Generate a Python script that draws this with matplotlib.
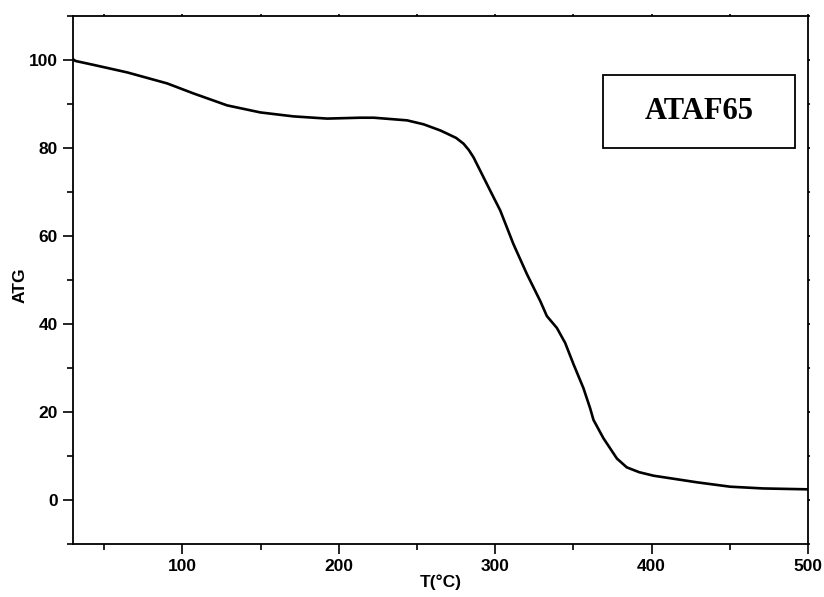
"""Thermogravimetric curve (ATG) for sample ATAF65."""

import matplotlib

matplotlib.use("Agg")
import matplotlib.pyplot as plt
from matplotlib.patches import Rectangle
from matplotlib.ticker import MultipleLocator

# values
temperature = [30, 31.6, 43.3, 64.7, 90.2, 107.2, 128.6, 149.8, 171, 192.5, 213.7, 222.3,
               243.6, 254.2, 264.9, 269.1, 275.0, 279.7, 283.0, 286.1, 296.8, 303.2, 311.7, 320.3,
               328.8, 333.0, 339.4, 344.7, 350.1, 356.4, 360.7, 362.8, 369.2, 377.8,
               384.1, 392.0, 401.2, 428.9, 450.2, 471.4, 500]
atg = [100.2, 99.8, 98.9, 97.2, 94.7, 92.4, 89.7, 88.1, 87.2, 86.7, 86.9, 86.9,
       86.3, 85.4, 84.0, 83.3, 82.3, 81.0, 79.6, 77.9, 70.3, 65.8, 58.1, 51.3,
       45.2, 41.8, 39.1, 35.7, 30.8, 25.4, 20.8, 18.2, 14.0, 9.4,
       7.4, 6.3, 5.5, 4.0, 3.0, 2.6, 2.4]

SAMPLE_LABEL = "ATAF65"
X_LABEL = "T(°C)"
Y_LABEL = "ATG"

plt.rcParams["font.family"] = ["Liberation Sans", "DejaVu Sans"]
plt.rcParams["font.weight"] = "bold"

fig = plt.figure(figsize=(8.24, 5.97), dpi=100)
ax = fig.add_axes([0.0886, 0.089, 0.892, 0.884])

ax.plot(temperature, atg, color="black", linewidth=1.9, solid_joinstyle="round")

ax.set_xlim(30, 500)
ax.set_ylim(-10, 110)
ax.xaxis.set_major_locator(MultipleLocator(100))
ax.xaxis.set_minor_locator(MultipleLocator(50))
ax.yaxis.set_major_locator(MultipleLocator(20))
ax.yaxis.set_minor_locator(MultipleLocator(10))

for side in ax.spines.values():
    side.set_linewidth(1.3)

ax.tick_params(which="major", direction="out", length=7, width=1.2, labelsize=12.5, pad=4)
ax.tick_params(which="minor", direction="out", length=4, width=1.2)
ax.tick_params(which="both", top=True, right=True)
# top and right ticks are only tiny nubs in the original
for tick in ax.xaxis.get_major_ticks() + ax.xaxis.get_minor_ticks():
    tick.tick2line.set_markersize(1.5)
for tick in ax.yaxis.get_major_ticks() + ax.yaxis.get_minor_ticks():
    tick.tick2line.set_markersize(1.5)

for lab in ax.get_xticklabels() + ax.get_yticklabels():
    lab.set_fontweight("bold")

ax.set_xlabel(X_LABEL, fontsize=12.5, fontweight="bold", labelpad=0)
ax.set_ylabel(Y_LABEL, fontsize=12.5, fontweight="bold")
ax.yaxis.set_label_coords(-0.062, 0.49)

box = Rectangle((0.721, 0.75), 0.261, 0.138, transform=ax.transAxes,
                fill=False, edgecolor="black", linewidth=1.3)
ax.add_patch(box)
ax.text(0.8515, 0.82, SAMPLE_LABEL, transform=ax.transAxes, ha="center", va="center",
        fontsize=22, fontweight="bold", family=["Liberation Serif", "DejaVu Serif"])

fig.savefig("out.png", dpi=100)
plt.close(fig)
